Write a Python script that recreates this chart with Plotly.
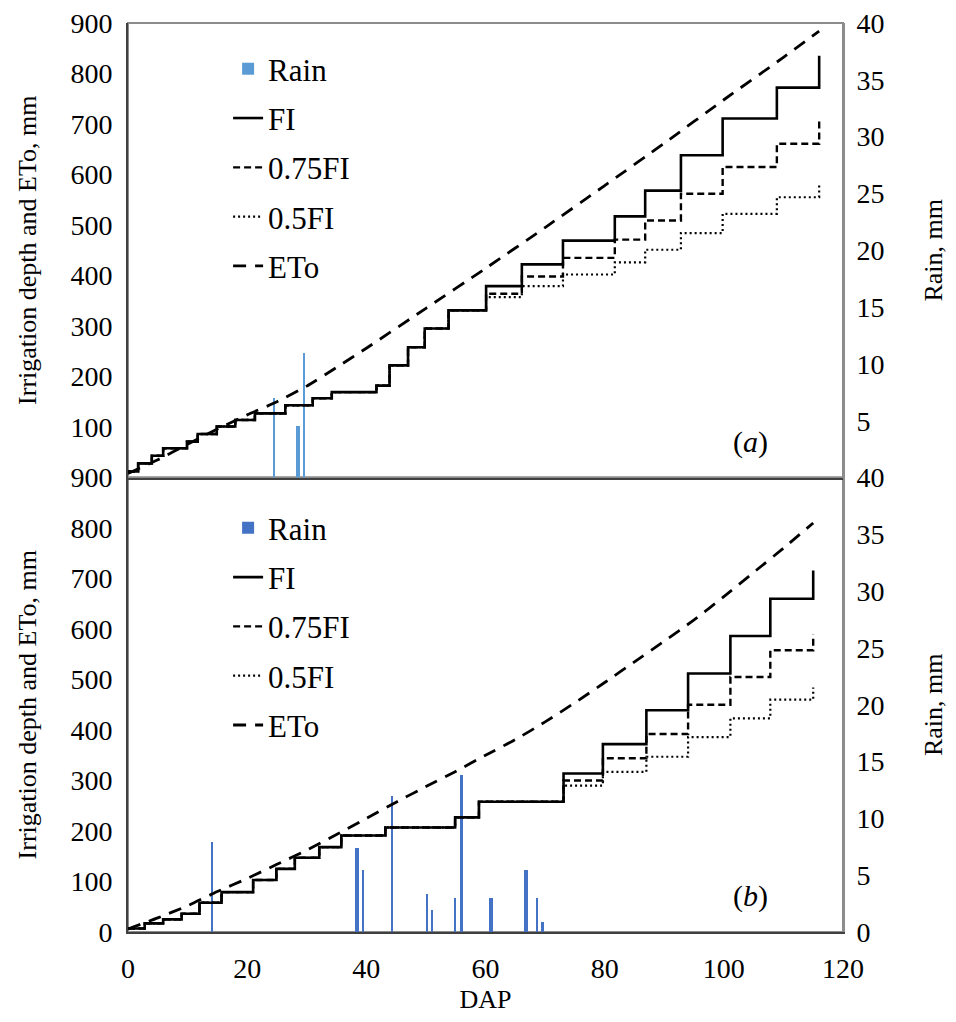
import plotly.graph_objects as go

# ---------------- data ----------------
# Panel (a)
a_rain_dap = [24.5, 28.5, 29.5]
a_rain_mm = [7.0, 4.5, 11.0]
a_rain_thick = [False, True, False]

a_fi_dap = [0, 1.7, 4.0, 5.9, 9.9, 11.7, 14.9, 18.0, 21.3, 26.4, 31.0, 34.2, 41.7, 43.9,
            47.0, 49.8, 53.8, 60.1, 66.1, 73.0, 81.7, 86.8, 92.8, 99.8, 108.9, 116.0]
a_fi = [12, 28, 43, 58, 71, 86, 101, 114, 127, 143, 157, 169, 182, 222,
        258, 295, 331, 379, 422, 469, 517, 568, 638, 711, 772, 835]
a_fi75 = [12, 28, 43, 58, 71, 86, 101, 114, 127, 143, 157, 169, 182, 222,
          258, 295, 331, 364, 398, 435, 471, 509, 562, 615, 661, 706]
a_fi50 = [12, 28, 43, 58, 71, 86, 101, 114, 127, 143, 157, 169, 182, 222,
          258, 295, 331, 357, 379, 402, 426, 451, 484, 522, 555, 583]
a_eto_dap = [0, 5, 10, 15, 20, 25, 30, 35, 40, 50, 60, 70, 80, 90, 100, 110, 116]
a_eto = [8, 35, 66, 96, 124, 150, 181, 218, 256, 335, 414, 495, 578, 662, 748, 832, 884]

# Panel (b)
b_rain_dap = [14.1, 38.4, 39.4, 44.3, 50.2, 51.0, 55.0, 56.0, 60.9, 66.8, 68.6, 69.6]
b_rain_mm = [8.0, 7.4, 5.5, 12.0, 3.4, 2.0, 3.0, 13.9, 3.0, 5.5, 3.0, 0.9]
b_rain_thick = [False, True, False, False, False, False, False, True, True, True, False, True]

b_fi_dap = [0, 2.8, 5.9, 9.0, 12.0, 15.7, 21.0, 24.9, 28.0, 32.1, 35.8, 43.2, 54.9, 58.9,
            73.1, 79.7, 87.0, 94.0, 101.1, 107.8, 115.0]
b_fi = [7, 17, 25, 36, 58, 79, 103, 125, 147, 168, 191, 207, 227, 258,
        314, 372, 439, 512, 586, 660, 716]
b_fi75 = [7, 17, 25, 36, 58, 79, 103, 125, 147, 168, 191, 207, 227, 258,
          300, 344, 392, 450, 505, 558, 589]
b_fi50 = [7, 17, 25, 36, 58, 79, 103, 125, 147, 168, 191, 207, 227, 258,
          290, 317, 347, 386, 423, 460, 484]
b_eto_dap = [0, 5, 10, 15, 20, 25, 30, 35, 40, 45, 50, 55, 60, 65, 70, 75, 80, 85, 90,
             95, 100, 105, 110, 115]
b_eto = [6, 28, 52, 80, 106, 134, 162, 193, 225, 257, 288, 318, 350, 381, 416, 454, 494,
         535, 576, 618, 664, 712, 760, 810]

x_ticks = [0, 20, 40, 60, 80, 100, 120]
a_left_ticks = [100, 200, 300, 400, 500, 600, 700, 800, 900]
b_left_ticks = [0, 100, 200, 300, 400, 500, 600, 700, 800, 900]
a_right_ticks = [5, 10, 15, 20, 25, 30, 35, 40]
b_right_ticks = [0, 5, 10, 15, 20, 25, 30, 35, 40]

# ---------------- styling ----------------
FONT = "Liberation Serif"
BLACK = "#000000"
AXC = "#404040"
GRAY = "#8c8c8c"
COL_A = "#5B9BD5"
COL_B = "#4472C4"
THIN_W = 0.25
THICK_W = 0.6
TICK_FS = 28
TITLE_FS = 26
LEG_FS = 31
CLEAR = "rgba(0,0,0,0)"

fig = go.Figure()


def add_panel(rain_dap, rain_mm, thick, fi_dap, fi, fi75, fi50, eto_dap, eto,
              xa, ya_rain, ya_line, legend, rain_color):
    widths = [THICK_W if t else THIN_W for t in thick]
    fig.add_trace(go.Bar(x=rain_dap, y=rain_mm, width=widths, name="Rain",
                         marker=dict(color=rain_color, line=dict(width=0)),
                         xaxis=xa, yaxis=ya_rain, legend=legend, legendgroup=legend + "r"))
    fig.add_trace(go.Scatter(x=fi_dap, y=fi, name="FI", mode="lines",
                             line=dict(color=BLACK, width=2.6, shape="hv"),
                             xaxis=xa, yaxis=ya_line, legend=legend, legendgroup=legend + "a"))
    fig.add_trace(go.Scatter(x=fi_dap, y=fi75, name="0.75FI", mode="lines",
                             line=dict(color=BLACK, width=2.4, shape="hv", dash="7px,4px"),
                             xaxis=xa, yaxis=ya_line, legend=legend, legendgroup=legend + "b"))
    fig.add_trace(go.Scatter(x=fi_dap, y=fi50, name="0.5FI", mode="lines",
                             line=dict(color=BLACK, width=2.2, shape="hv", dash="2px,3px"),
                             xaxis=xa, yaxis=ya_line, legend=legend, legendgroup=legend + "c"))
    fig.add_trace(go.Scatter(x=eto_dap, y=eto, name="ETo", mode="lines",
                             line=dict(color=BLACK, width=2.8, dash="13px,9px", shape="spline",
                                       smoothing=0.6),
                             xaxis=xa, yaxis=ya_line, legend=legend, legendgroup=legend + "d"))


add_panel(a_rain_dap, a_rain_mm, a_rain_thick, a_fi_dap, a_fi, a_fi75, a_fi50,
          a_eto_dap, a_eto, "x", "y", "y2", "legend", COL_A)
add_panel(b_rain_dap, b_rain_mm, b_rain_thick, b_fi_dap, b_fi, b_fi75, b_fi50,
          b_eto_dap, b_eto, "x2", "y3", "y4", "legend2", COL_B)

tick_font = dict(family=FONT, size=TICK_FS, color=BLACK)
title_font = dict(family=FONT, size=TITLE_FS, color=BLACK)

left_title = "Irrigation depth and ETo, mm"

legend_common = dict(font=dict(family=FONT, size=LEG_FS, color=BLACK), bgcolor=CLEAR,
                     borderwidth=0, tracegroupgap=6, xanchor="left", yanchor="top",
                     itemclick=False, itemdoubleclick=False)

common_axis = dict(showgrid=False, zeroline=False, automargin=False,
                   ticks="outside", tickcolor=CLEAR, ticklabeloverflow="allow")

fig.update_layout(
    width=940, height=1006,
    margin=dict(l=120, r=105, t=15, b=82),
    paper_bgcolor="white", plot_bgcolor="white",
    bargap=0, barmode="overlay",
    font=dict(family=FONT, size=TICK_FS, color=BLACK),
    xaxis=dict(domain=[0, 1], range=[0, 120], anchor="y2", tickvals=x_ticks,
               showticklabels=False, showline=True, linecolor=AXC, linewidth=2,
               **common_axis),
    yaxis=dict(domain=[0.5, 1], range=[0, 40], side="right", anchor="x",
               tickvals=a_right_ticks, tickfont=tick_font, ticklen=6,
               showline=True, linecolor=GRAY, linewidth=2,
               title=dict(text="Rain, mm", font=title_font, standoff=54), **common_axis),
    yaxis2=dict(overlaying="y", range=[0, 900], side="left", anchor="x",
                tickvals=a_left_ticks, tickfont=tick_font, ticklen=8,
                showline=True, linecolor=AXC, linewidth=2,
                title=dict(text=left_title, font=title_font, standoff=26), **common_axis),
    xaxis2=dict(domain=[0, 1], range=[0, 120], anchor="y4", tickvals=x_ticks,
                tickfont=tick_font, ticklen=10, showline=True, linecolor=AXC, linewidth=2,
                title=dict(text="DAP", font=title_font, standoff=21), **common_axis),
    yaxis3=dict(domain=[0, 0.5], range=[0, 40], side="right", anchor="x2",
                tickvals=b_right_ticks, tickfont=tick_font, ticklen=6,
                showline=True, linecolor=GRAY, linewidth=2,
                title=dict(text="Rain, mm", font=title_font, standoff=54), **common_axis),
    yaxis4=dict(overlaying="y3", range=[0, 900], side="left", anchor="x2",
                tickvals=b_left_ticks, tickfont=tick_font, ticklen=8,
                showline=True, linecolor=AXC, linewidth=2,
                title=dict(text=left_title, font=title_font, standoff=26), **common_axis),
    legend=dict(x=0.14, y=0.979, **legend_common),
    legend2=dict(x=0.14, y=0.474, **legend_common),
    showlegend=True,
)

# gray frame around each panel (top/right borders)
for y0, y1 in [(0.5, 1.0), (0.0, 0.5)]:
    fig.add_shape(type="rect", xref="paper", yref="paper", x0=0, x1=1, y0=y0, y1=y1,
                  line=dict(color=GRAY, width=2), layer="below")

fig.add_annotation(text="(<i>a</i>)", xref="x", yref="y2", x=104.5, y=71, showarrow=False,
                   font=dict(family=FONT, size=30, color=BLACK))
fig.add_annotation(text="(<i>b</i>)", xref="x2", yref="y4", x=104.5, y=71, showarrow=False,
                   font=dict(family=FONT, size=30, color=BLACK))

fig.write_html("out.html")
